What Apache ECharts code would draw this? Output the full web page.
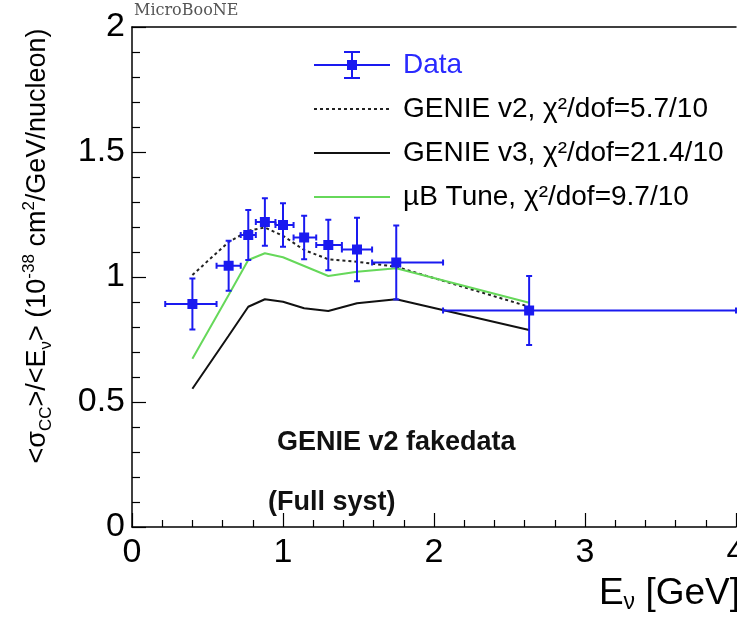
<!DOCTYPE html>
<html><head><meta charset="utf-8">
<script src="https://cdn.jsdelivr.net/npm/echarts@6/dist/echarts.min.js"></script>
<style>html,body{margin:0;padding:0;background:#fff}#c{width:737px;height:619px}</style>
</head><body><div id="c"></div>
<script>
// ---- data ----
const binLo   = [0.22, 0.56, 0.72, 0.82, 0.95, 1.07, 1.22, 1.39, 1.59, 2.06];
const binHi   = [0.56, 0.72, 0.82, 0.95, 1.07, 1.22, 1.39, 1.59, 2.06, 4.00];
const dataX   = [0.40, 0.64, 0.77, 0.88, 1.00, 1.14, 1.30, 1.49, 1.75, 2.63];
const dataY   = [0.892, 1.045, 1.168, 1.220, 1.208, 1.158, 1.128, 1.110, 1.058, 0.866];
const dataErr = [0.102, 0.100, 0.100, 0.095, 0.087, 0.087, 0.101, 0.127, 0.148, 0.138];
const genieV2 = [1.008, 1.140, 1.185, 1.198, 1.165, 1.108, 1.071, 1.061, 1.041, 0.881];
const genieV3 = [0.553, 0.765, 0.881, 0.911, 0.901, 0.875, 0.864, 0.895, 0.911, 0.788];
const ubTune  = [0.673, 0.928, 1.068, 1.095, 1.079, 1.044, 1.004, 1.021, 1.035, 0.897];
const xTicks  = [0, 1, 2, 3, 4];
const yTicks  = [0, 0.5, 1, 1.5, 2];
const names   = ['Data', 'GENIE v2, χ²/dof=5.7/10', 'GENIE v3, χ²/dof=21.4/10', 'µB Tune, χ²/dof=9.7/10'];

const BLUE = '#1a1af0';
const GREEN = '#66d85a';
const FONT = 'Liberation Sans, Arial, sans-serif';

const dataPts = dataX.map((x, i) => [x, dataY[i], binLo[i], binHi[i], dataErr[i]]);
const pair = arr => dataX.map((x, i) => [x, arr[i]]);

function renderData(params, api) {
  const x = api.value(0), y = api.value(1), lo = api.value(2), hi = api.value(3), e = api.value(4);
  const c = api.coord([x, y]);
  const pl = api.coord([lo, y]), ph = api.coord([hi, y]);
  const pt = api.coord([x, y + e]), pb = api.coord([x, y - e]);
  const st = {stroke: BLUE, lineWidth: 2};
  const k = 3;
  return {type: 'group', children: [
    {type: 'line', shape: {x1: pl[0], y1: c[1], x2: ph[0], y2: c[1]}, style: st},
    {type: 'line', shape: {x1: pl[0], y1: c[1] - k, x2: pl[0], y2: c[1] + k}, style: st},
    {type: 'line', shape: {x1: ph[0], y1: c[1] - k, x2: ph[0], y2: c[1] + k}, style: st},
    {type: 'line', shape: {x1: c[0], y1: pt[1], x2: c[0], y2: pb[1]}, style: st},
    {type: 'line', shape: {x1: c[0] - k, y1: pt[1], x2: c[0] + k, y2: pt[1]}, style: st},
    {type: 'line', shape: {x1: c[0] - k, y1: pb[1], x2: c[0] + k, y2: pb[1]}, style: st},
    {type: 'rect', shape: {x: c[0] - 5, y: c[1] - 5, width: 10, height: 10}, style: {fill: BLUE}}
  ]};
}

const DATA_ICON = 'path://M0,13L76,13M38,0L38,26M30,0L46,0M30,26L46,26M34,9L42,9L42,17L34,17Z';

const chart = echarts.init(document.getElementById('c'), null, {renderer: 'canvas'});
chart.setOption({
  animation: false,
  backgroundColor: '#fff',
  grid: {left: 132, right: 1, top: 27, bottom: 92, containLabel: false, outerBoundsMode: 'none'},
  legend: {
    orient: 'vertical', left: 313, top: 51, padding: 0,
    itemWidth: 76, itemHeight: 26, itemGap: 16,
    selectedMode: false,
    textStyle: {fontFamily: FONT, fontSize: 28, color: '#000', padding: [0, 0, 0, 8], lineHeight: 26},
    data: [
      {name: names[0], icon: DATA_ICON, itemStyle: {color: BLUE, borderColor: BLUE, borderWidth: 2}, textStyle: {color: '#2a2aff'}},
      {name: names[1], itemStyle: {opacity: 0}},
      {name: names[2], itemStyle: {opacity: 0}},
      {name: names[3], itemStyle: {opacity: 0}}
    ]
  },
  xAxis: [{
    type: 'value', min: xTicks[0], max: xTicks[xTicks.length - 1], interval: 1,
    axisLine: {show: true, onZero: false, lineStyle: {color: '#000', width: 1.5}},
    axisTick: {show: true, inside: true, length: 14, lineStyle: {color: '#000', width: 1.2}},
    minorTick: {show: true, splitNumber: 5, length: 7, lineStyle: {color: '#000', width: 1.2}},
    splitLine: {show: false},
    axisLabel: {color: '#000', fontSize: 34, fontFamily: FONT, margin: 9},
    name: '{t|E}{s|ν}{t| [GeV]}',
    nameLocation: 'end', nameGap: 4,
    nameTextStyle: {align: 'right', verticalAlign: 'top', padding: [47, 0, 0, 0],
      rich: {t: {fontSize: 37, fontFamily: FONT, color: '#000', lineHeight: 40},
             s: {fontSize: 23, fontFamily: FONT, color: '#000', lineHeight: 20, verticalAlign: 'bottom'}}}
  }, {
    type: 'value', position: 'top', min: 0, max: 4,
    axisLine: {show: true, onZero: false, lineStyle: {color: '#000', width: 1.5}},
    axisTick: {show: false}, axisLabel: {show: false}, splitLine: {show: false}
  }],
  yAxis: {
    type: 'value', min: yTicks[0], max: yTicks[yTicks.length - 1], interval: 0.5,
    axisLine: {show: true, onZero: false, lineStyle: {color: '#000', width: 1.5}},
    axisTick: {show: true, inside: true, length: 14, lineStyle: {color: '#000', width: 1.2}},
    minorTick: {show: true, splitNumber: 5, length: 8, lineStyle: {color: '#000', width: 1.2}},
    splitLine: {show: false},
    axisLabel: {color: '#000', fontSize: 34, fontFamily: FONT, margin: 7},
    name: '{t|<σ}{s|CC}{t|>/<E}{s|ν}{t|> (10}{p|-38}{t| cm}{p|2}{t|/GeV/nucleon)}',
    nameLocation: 'middle', nameRotate: 90, nameGap: 77,
    nameTextStyle: {padding: [0, 0, 0, 62],
      rich: {t: {fontSize: 27, fontFamily: FONT, color: '#000', lineHeight: 34},
             s: {fontSize: 17, fontFamily: FONT, color: '#000', lineHeight: 17, verticalAlign: 'bottom'},
             p: {fontSize: 17, fontFamily: FONT, color: '#000', lineHeight: 17, verticalAlign: 'top'}}}
  },
  graphic: [
    {type: 'text', left: 134, top: 3, style: {text: 'MicroBooNE', font: '16px "DejaVu Serif", serif', fill: '#555'}},
    {type: 'text', x: 277, y: 443, style: {text: 'GENIE v2 fakedata', font: 'bold 27px "Liberation Sans", Arial, sans-serif', fill: '#111', verticalAlign: 'middle'}},
    {type: 'text', x: 268, y: 503, style: {text: '(Full syst)', font: 'bold 27px "Liberation Sans", Arial, sans-serif', fill: '#111', verticalAlign: 'middle'}}
  ],
  series: [
    {name: names[0], type: 'custom', renderItem: renderData, data: dataPts, encode: {x: 0, y: 1}, z: 5},
    {name: names[1], type: 'line', data: pair(genieV2), symbol: 'none', lineStyle: {color: '#222', width: 2, type: [3, 3]}, itemStyle: {color: '#222'}, z: 3},
    {name: names[2], type: 'line', data: pair(genieV3), symbol: 'none', lineStyle: {color: '#111', width: 2}, itemStyle: {color: '#111'}, z: 3},
    {name: names[3], type: 'line', data: pair(ubTune), symbol: 'none', lineStyle: {color: GREEN, width: 2}, itemStyle: {color: GREEN}, z: 3}
  ]
});
</script></body></html>
